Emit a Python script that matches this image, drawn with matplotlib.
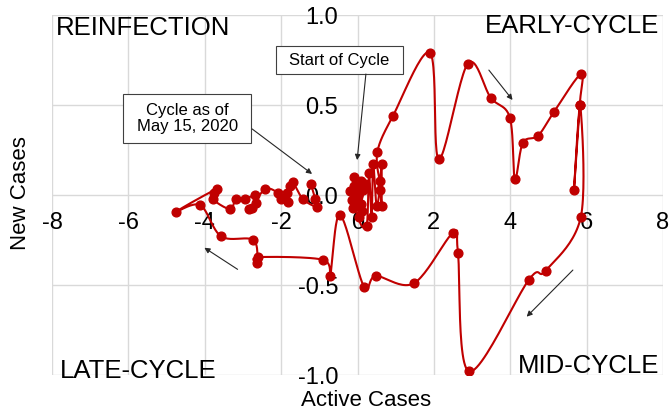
import numpy as np
import matplotlib
matplotlib.use("Agg")
import matplotlib.pyplot as plt
from matplotlib.patches import Rectangle
from matplotlib.ticker import FormatStrFormatter

plt.rcParams['font.family'] = ['Liberation Sans', 'DejaVu Sans']
plt.rcParams['axes.unicode_minus'] = False

# Daily trajectory: change in active cases (x) vs change in new cases (y)
active_cases = [
    0.00, -0.10, 0.05, -0.15, 0.10, -0.05, 0.15, -0.20, 0.08, -0.10,
    0.12, -0.12, 0.20, 0.03, 0.24, 0.30, 0.37, 0.41, 0.50, 0.59,
    0.63, 0.63, 0.59, 0.52, 0.93, 1.90, 2.13, 2.89, 3.49, 3.99,
    4.12, 4.33, 4.73, 5.14, 5.85, 5.82, 5.67, 5.83, 5.85, 4.93,
    4.49, 2.92, 2.63, 2.50, 1.48, 0.48, 0.17, -0.46, -0.72, -0.90,
    -2.60, -2.62, -2.73, -3.57, -4.12, -4.75, -3.68, -3.75, -3.79, -3.34,
    -3.18, -2.94, -2.68, -2.66, -2.84, -2.77, -2.42, -2.08, -2.01, -1.85,
    -1.82, -1.77, -1.70, -1.43, -1.07, -1.11, -1.22,
]
new_cases = [
    0.00, 0.05, 0.02, -0.03, 0.08, -0.06, 0.03, 0.02, -0.05, 0.10,
    -0.09, -0.07, 0.06, -0.12, -0.17, 0.12, -0.12, 0.17, -0.06, 0.03,
    -0.06, 0.17, 0.08, 0.24, 0.44, 0.79, 0.20, 0.73, 0.54, 0.43,
    0.09, 0.29, 0.33, 0.46, 0.67, 0.50, 0.03, 0.50, -0.12, -0.42,
    -0.47, -0.98, -0.32, -0.21, -0.49, -0.45, -0.51, -0.11, -0.45, -0.36,
    -0.345, -0.375, -0.25, -0.23, -0.056, -0.094, 0.035, 0.01, -0.024, -0.078,
    -0.022, -0.022, 0.00, -0.046, -0.078, -0.07, 0.033, 0.011, -0.022, 0.011,
    -0.04, 0.05, 0.074, -0.022, -0.065, -0.02, 0.06,
]

x_ticks = [-8, -6, -4, -2, 0, 2, 4, 6, 8]
y_ticks = [-1.0, -0.5, 0.0, 0.5, 1.0]

RED = '#C00000'
GRID = '#d9d9d9'
INK = '#262626'


def smooth_path(xs, ys, sx, sy, n=24):
    """Bezier smoothing through every point (control points from neighbours)."""
    P = np.column_stack([np.asarray(xs) * sx, np.asarray(ys) * sy])
    P = np.vstack([P[0], P, P[-1]])
    t = np.linspace(0, 1, n, endpoint=False)[:, None]
    parts = []
    for i in range(1, len(P) - 2):
        p0, p1, p2, p3 = P[i - 1], P[i], P[i + 1], P[i + 2]
        c1 = p1 + (p2 - p0) / 6.0
        c2 = p2 - (p3 - p1) / 6.0
        seg = ((1 - t) ** 3) * p1 + 3 * ((1 - t) ** 2) * t * c1 \
            + 3 * (1 - t) * t ** 2 * c2 + t ** 3 * p2
        parts.append(seg)
    parts.append(P[-2][None, :])
    out = np.vstack(parts)
    return out[:, 0] / sx, out[:, 1] / sy


fig = plt.figure(figsize=(6.72, 4.16), dpi=100)
ax = fig.add_axes([52 / 672, 41 / 416, 611 / 672, 360 / 416])
ax.set_xlim(-8, 8)
ax.set_ylim(-1, 1)
ax.set_xticks(x_ticks)
ax.set_yticks(y_ticks)
ax.yaxis.set_major_formatter(FormatStrFormatter('%.1f'))
ax.grid(True, color=GRID, lw=1.0)
ax.set_axisbelow(True)

for side in ['left', 'bottom']:
    ax.spines[side].set_position('zero')
for side in ax.spines:
    ax.spines[side].set_visible(False)

ax.tick_params(axis='both', length=0, labelsize=17, colors='black')
ax.tick_params(axis='x', pad=12)
ax.tick_params(axis='y', pad=14)

# Smoothed trajectory with daily markers (scaled so smoothing follows screen shape)
px_per_x = 611 / 16
px_per_y = 360 / 2
sx, sy = smooth_path(active_cases, new_cases, px_per_x, px_per_y)
ax.plot(sx, sy, color=RED, lw=1.5, zorder=3, solid_capstyle='round')
ax.plot(active_cases, new_cases, 'o', ms=6.3, color=RED, zorder=4)

arrow_kw = dict(arrowstyle='-|>', color=INK, lw=0.8, mutation_scale=8,
                shrinkA=0, shrinkB=0)

# Direction arrows
ax.annotate('', xy=(4.06, 0.528), xytext=(3.44, 0.694), arrowprops=arrow_kw, zorder=5)
ax.annotate('', xy=(4.43, -0.676), xytext=(5.64, -0.417), arrowprops=arrow_kw, zorder=5)
ax.annotate('', xy=(-4.01, -0.293), xytext=(-3.14, -0.413), arrowprops=arrow_kw, zorder=5)

# Callout boxes
ax.add_patch(Rectangle((-2.13, 0.672), 3.32, 0.156, facecolor='white',
                       edgecolor='#404040', lw=0.8, zorder=5))
ax.text(-0.47, 0.75, 'Start of Cycle', ha='center', va='center', fontsize=12, zorder=6)
ax.annotate('', xy=(-0.01, 0.194), xytext=(0.22, 0.672), arrowprops=arrow_kw, zorder=5)

ax.add_patch(Rectangle((-6.14, 0.289), 3.35, 0.272, facecolor='white',
                       edgecolor='#404040', lw=0.8, zorder=5))
ax.text(-4.46, 0.425, 'Cycle as of\nMay 15, 2020', ha='center', va='center',
        fontsize=12, linespacing=1.15, zorder=6)
ax.annotate('', xy=(-1.19, 0.117), xytext=(-2.76, 0.367), arrowprops=arrow_kw, zorder=5)

# Quadrant names
ax.text(0.0065, 0.944, 'REINFECTION', transform=ax.transAxes, ha='left',
        va='baseline', fontsize=18.5)
ax.text(0.9935, 0.95, 'EARLY-CYCLE', transform=ax.transAxes, ha='right',
        va='baseline', fontsize=18.5)
ax.text(0.013, -0.008, 'LATE-CYCLE', transform=ax.transAxes, ha='left',
        va='baseline', fontsize=18.5)
ax.text(0.9935, 0.0056, 'MID-CYCLE', transform=ax.transAxes, ha='right',
        va='baseline', fontsize=18.5)

fig.text(366 / 672, 1 - 400 / 416, 'Active Cases', ha='center', va='center', fontsize=16)
fig.text(21 / 672, 1 - 193 / 416, 'New Cases', ha='center', va='center',
         rotation=90, fontsize=16)

fig.savefig('out.png', dpi=100)
